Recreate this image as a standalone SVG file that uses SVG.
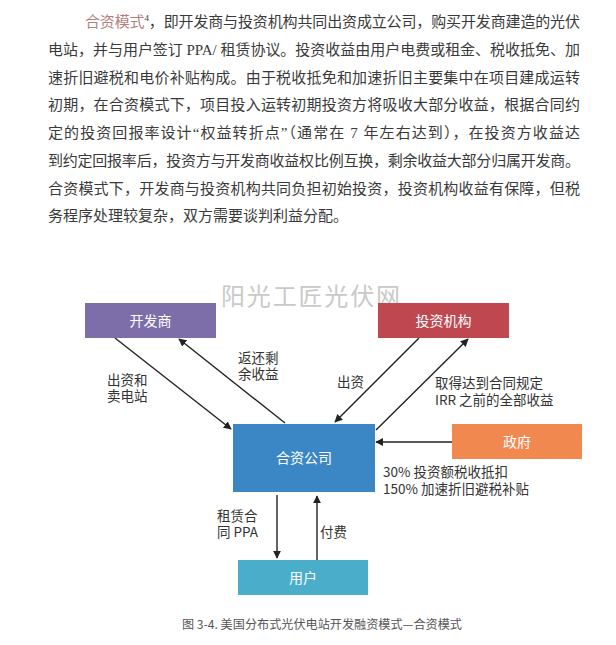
<svg xmlns="http://www.w3.org/2000/svg" width="616" height="645" viewBox="0 0 616 645">
<defs>
<style>
.body{font-family:"Liberation Serif","Noto Sans CJK SC",serif;font-size:15px;fill:#3a3a3a;}
.hl{fill:#b57f80;}
.lbl{font-family:"Noto Sans CJK SC","Liberation Sans",sans-serif;font-size:13.5px;fill:#333;}
.box{font-family:"Noto Sans CJK SC",sans-serif;font-size:14px;fill:#ffffff;text-anchor:middle;}
.wm{font-family:"Noto Sans CJK SC",sans-serif;font-size:24px;fill:#c9c9c9;}
.cap{font-family:"Noto Sans CJK SC","Liberation Sans",sans-serif;font-size:12px;fill:#555;}
.ln{stroke:#222;stroke-width:1.4;fill:none;marker-end:url(#ah);}
</style>
<marker id="ah" viewBox="0 0 10 10" refX="9" refY="5" markerWidth="8" markerHeight="8" markerUnits="userSpaceOnUse" orient="auto">
<path d="M0,0 L10,5 L0,10 z" fill="#222"/>
</marker>
</defs>
<rect width="616" height="645" fill="#ffffff"/>
<g id="paragraph">
<text class="body" x="85" y="27" textLength="495" lengthAdjust="spacing"><tspan class="hl">合资模式</tspan><tspan font-size="9" dy="-6">4</tspan><tspan dy="6">，即开发商与投资机构共同出资成立公司，购买开发商建造的光伏</tspan></text>
<text class="body" x="48" y="55" textLength="532" lengthAdjust="spacing">电站，并与用户签订 PPA/ 租赁协议。投资收益由用户电费或租金、税收抵免、加</text>
<text class="body" x="48" y="83" textLength="532" lengthAdjust="spacing">速折旧避税和电价补贴构成。由于税收抵免和加速折旧主要集中在项目建成运转</text>
<text class="body" x="48" y="110" textLength="532" lengthAdjust="spacing">初期，在合资模式下，项目投入运转初期投资方将吸收大部分收益，根据合同约</text>
<text class="body" x="48" y="138" textLength="532" lengthAdjust="spacing">定的投资回报率设计“权益转折点”（通常在 7 年左右达到），在投资方收益达</text>
<text class="body" x="48" y="166" textLength="532" lengthAdjust="spacing">到约定回报率后，投资方与开发商收益权比例互换，剩余收益大部分归属开发商。</text>
<text class="body" x="48" y="194" textLength="532" lengthAdjust="spacing">合资模式下，开发商与投资机构共同负担初始投资，投资机构收益有保障，但税</text>
<text class="body" x="48" y="221">务程序处理较复杂，双方需要谈判利益分配。</text>
</g>
<text class="wm" x="221" y="305" textLength="179" lengthAdjust="spacing">阳光工匠光伏网</text>
<g id="connectors">
<line class="ln" x1="115" y1="338" x2="231" y2="429"/>
<line class="ln" x1="285" y1="423" x2="179" y2="339"/>
<line class="ln" x1="419" y1="338" x2="335" y2="422"/>
<line class="ln" x1="376" y1="430" x2="468" y2="339"/>
<line class="ln" x1="452" y1="442" x2="376" y2="442"/>
<line class="ln" x1="277" y1="495" x2="277" y2="558"/>
<line class="ln" x1="317" y1="560" x2="317" y2="496"/>
<text class="lbl" x="107" y="385">出资和<tspan x="107" dy="16">卖电站</tspan></text>
<text class="lbl" x="238" y="363">返还剩<tspan x="238" dy="16">余收益</tspan></text>
<text class="lbl" x="337" y="387">出资</text>
<text class="lbl" x="435" y="388">取得达到合同规定<tspan x="435" dy="17">IRR 之前的全部收益</tspan></text>
<text class="lbl" x="383" y="477">30% 投资额税收抵扣<tspan x="383" dy="17">150% 加速折旧避税补贴</tspan></text>
<text class="lbl" x="217" y="521">租赁合<tspan x="217" dy="16">同 PPA</tspan></text>
<text class="lbl" x="320" y="537">付费</text>
</g>
<g id="developer">
<rect x="85" y="303" width="131" height="35" fill="#7d6da9"/>
<text class="box" x="150.5" y="325.5">开发商</text>
</g>
<g id="investor">
<rect x="378" y="303" width="131" height="35" fill="#bf4850"/>
<text class="box" x="443.5" y="325.5">投资机构</text>
</g>
<g id="jv">
<rect x="233" y="424" width="142" height="68" fill="#3b87c6"/>
<text class="box" x="304" y="463">合资公司</text>
</g>
<g id="government">
<rect x="452" y="424" width="130" height="35" fill="#f0884f"/>
<text class="box" x="517" y="446.5">政府</text>
</g>
<g id="user">
<rect x="238" y="560" width="130" height="35" fill="#4aaecb"/>
<text class="box" x="303" y="582.5">用户</text>
</g>
<text class="cap" x="182" y="629" textLength="280" lengthAdjust="spacingAndGlyphs">图 3-4. 美国分布式光伏电站开发融资模式—合资模式</text>
</svg>
